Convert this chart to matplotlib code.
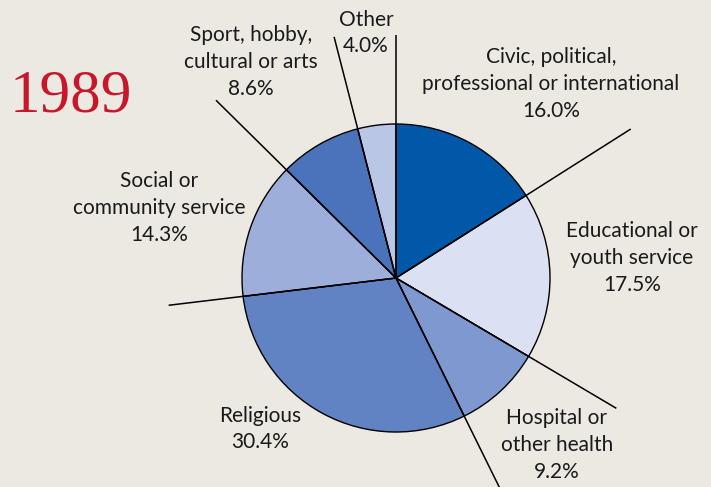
import numpy as np
import matplotlib
matplotlib.use("Agg")
import matplotlib.pyplot as plt

categories = ["Civic, political,\nprofessional or international",
              "Educational or\nyouth service",
              "Hospital or\nother health",
              "Religious",
              "Social or\ncommunity service",
              "Sport, hobby,\ncultural or arts",
              "Other"]
values = [16.0, 17.5, 9.2, 30.4, 14.3, 8.6, 4.0]
colors = ["#0258a8", "#dbe0f2", "#7f98cf", "#6182c3", "#9eaeda", "#4a73bc", "#bac6e6"]
title = "1989"

W, H = 711, 487
fig = plt.figure(figsize=(W / 100, H / 100), dpi=100)
fig.patch.set_facecolor("#ece9e2")
ax = fig.add_axes([0, 0, 1, 1])

cx, cy, r = 396, H - 278, 154
wedges, _ = ax.pie(values, colors=colors, startangle=90, counterclock=False,
                   center=(cx, cy), radius=r,
                   wedgeprops=dict(edgecolor="black", linewidth=1.0))
ax.set_xlim(0, W)
ax.set_ylim(0, H)
ax.set_aspect("equal")
ax.axis("off")

# leader lines along slice boundaries (start edge of each wedge)
ext = [243, 278, 256, 330, 229, 253, 249]
for w, L in zip(wedges, ext):
    ang = np.deg2rad(w.theta2)
    ax.plot([cx, cx + L * np.cos(ang)], [cy, cy + L * np.sin(ang)],
            color="black", lw=1.1, solid_capstyle="butt", zorder=5)

label_pos = [(551, 84), (632, 258), (557, 445), (260, 429),
             (159, 208), (251, 62), (366, 33)]
fam = ["Lato", "DejaVu Sans"]
for cat, v, (x, y) in zip(categories, values, label_pos):
    ax.text(x, H - y, f"{cat}\n{v:.1f}%", ha="center", va="center",
            fontsize=15, family=fam, color="#1a1a1a", linespacing=1.42)

ax.text(10, H - 97, title, ha="left", va="center", fontsize=44,
        family=["Liberation Serif", "DejaVu Serif"], color="#c8172a")

fig.savefig("out.png", dpi=100, facecolor=fig.get_facecolor())
